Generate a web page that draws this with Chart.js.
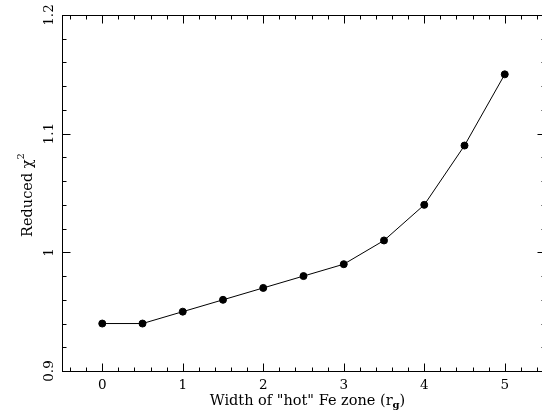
<!DOCTYPE html>
<html>
<head>
<meta charset="utf-8">
<script src="https://cdn.jsdelivr.net/npm/chart.js@4/dist/chart.umd.min.js"></script>
<style>
  html, body { margin: 0; padding: 0; background: #fff; overflow: hidden; }
  #wrap { width: 552px; height: 410px; }
</style>
</head>
<body>
<div id="wrap"><canvas id="chart" width="552" height="410"></canvas></div>
<script>
const widths  = [0, 0.5, 1, 1.5, 2, 2.5, 3, 3.5, 4, 4.5, 5];
const chi2    = [0.94, 0.94, 0.95, 0.96, 0.97, 0.98, 0.99, 1.01, 1.04, 1.09, 1.15];
const xTicks  = [0, 1, 2, 3, 4, 5];
const xTickLabels = ['0', '1', '2', '3', '4', '5'];
const yTicks  = [0.9, 1, 1.1, 1.2];
const yTickLabels = ['0.9', '1', '1.1', '1.2'];

const FONT = '"DejaVu Serif", serif';

// inward ticks on all four sides, rotated y labels, axis titles
const framePlugin = {
  id: 'frame',
  afterDraw(chart) {
    const { ctx, chartArea: a, scales: { x, y } } = chart;
    const L = Math.round(a.left) + 0.5, R = Math.round(a.right) + 0.5;
    const T = Math.round(a.top) + 0.5, B = Math.round(a.bottom) + 0.5;
    ctx.save();
    ctx.strokeStyle = '#000';
    ctx.lineWidth = 1;
    ctx.strokeRect(L, T, R - L, B - T);

    ctx.beginPath();
    for (let v = -0.4; v < 5.5; v += 0.2) {
      const px = Math.round(x.getPixelForValue(v)) + 0.5;
      const major = Math.abs(v - Math.round(v)) < 1e-6;
      const len = major ? 8 : 4;
      ctx.moveTo(px, B); ctx.lineTo(px, B - len);
      ctx.moveTo(px, T); ctx.lineTo(px, T + len);
    }
    for (let v = 0.92; v < 1.2; v += 0.02) {
      const py = Math.round(y.getPixelForValue(v)) + 0.5;
      const major = Math.abs(v * 10 - Math.round(v * 10)) < 1e-6;
      const len = major ? 8 : 4;
      ctx.moveTo(L, py); ctx.lineTo(L + len, py);
      ctx.moveTo(R, py); ctx.lineTo(R - len, py);
    }
    ctx.stroke();

    ctx.fillStyle = '#000';
    ctx.font = '13.5px ' + FONT;
    ctx.textAlign = 'center';
    ctx.textBaseline = 'middle';
    xTicks.forEach((v, i) => ctx.fillText(xTickLabels[i], x.getPixelForValue(v), 385));
    yTicks.forEach((v, i) => {
      ctx.save();
      ctx.translate(49, y.getPixelForValue(v));
      ctx.rotate(-Math.PI / 2);
      ctx.fillText(yTickLabels[i], 0, 0);
      ctx.restore();
    });

    // x title: Width of "hot" Fe zone (r_g)
    ctx.textAlign = 'left';
    ctx.textBaseline = 'alphabetic';
    const f = '14.5px ' + FONT, fs = 'bold 10px ' + FONT;
    const parts = [['Width of "hot" Fe zone (r', f, 0], ['g', fs, 3], [')', f, 0]];
    let w = 0;
    parts.forEach(p => { ctx.font = p[1]; w += ctx.measureText(p[0]).width; });
    let cx = (a.left + a.right) / 2 + 4 - w / 2;
    parts.forEach(p => { ctx.font = p[1]; ctx.fillText(p[0], cx, 405 + p[2]); cx += ctx.measureText(p[0]).width; });

    // y title: Reduced χ²
    ctx.save();
    ctx.translate(32, 195);
    ctx.rotate(-Math.PI / 2);
    const yparts = [['Reduced χ', f, 0], ['2', '10px ' + FONT, -8]];
    w = 0;
    yparts.forEach(p => { ctx.font = p[1]; w += ctx.measureText(p[0]).width; });
    cx = -w / 2;
    yparts.forEach(p => { ctx.font = p[1]; ctx.fillText(p[0], cx, p[2]); cx += ctx.measureText(p[0]).width; });
    ctx.restore();
    ctx.restore();
  }
};

new Chart(document.getElementById('chart'), {
  type: 'scatter',
  data: {
    datasets: [{
      data: widths.map((w, i) => ({ x: w, y: chi2[i] })),
      showLine: true,
      borderColor: '#000',
      backgroundColor: '#000',
      borderWidth: 1,
      pointRadius: 3.5,
      pointHoverRadius: 3.5,
    }],
  },
  options: {
    responsive: false,
    animation: false,
    events: [],
    layout: { padding: { left: 62, top: 15, right: 7, bottom: 39 } },
    scales: {
      x: { type: 'linear', min: -0.5, max: 5.5, display: false },
      y: { type: 'linear', min: 0.9, max: 1.2, display: false },
    },
    plugins: { legend: { display: false }, tooltip: { enabled: false } },
  },
  plugins: [framePlugin],
});
</script>
</body>
</html>
